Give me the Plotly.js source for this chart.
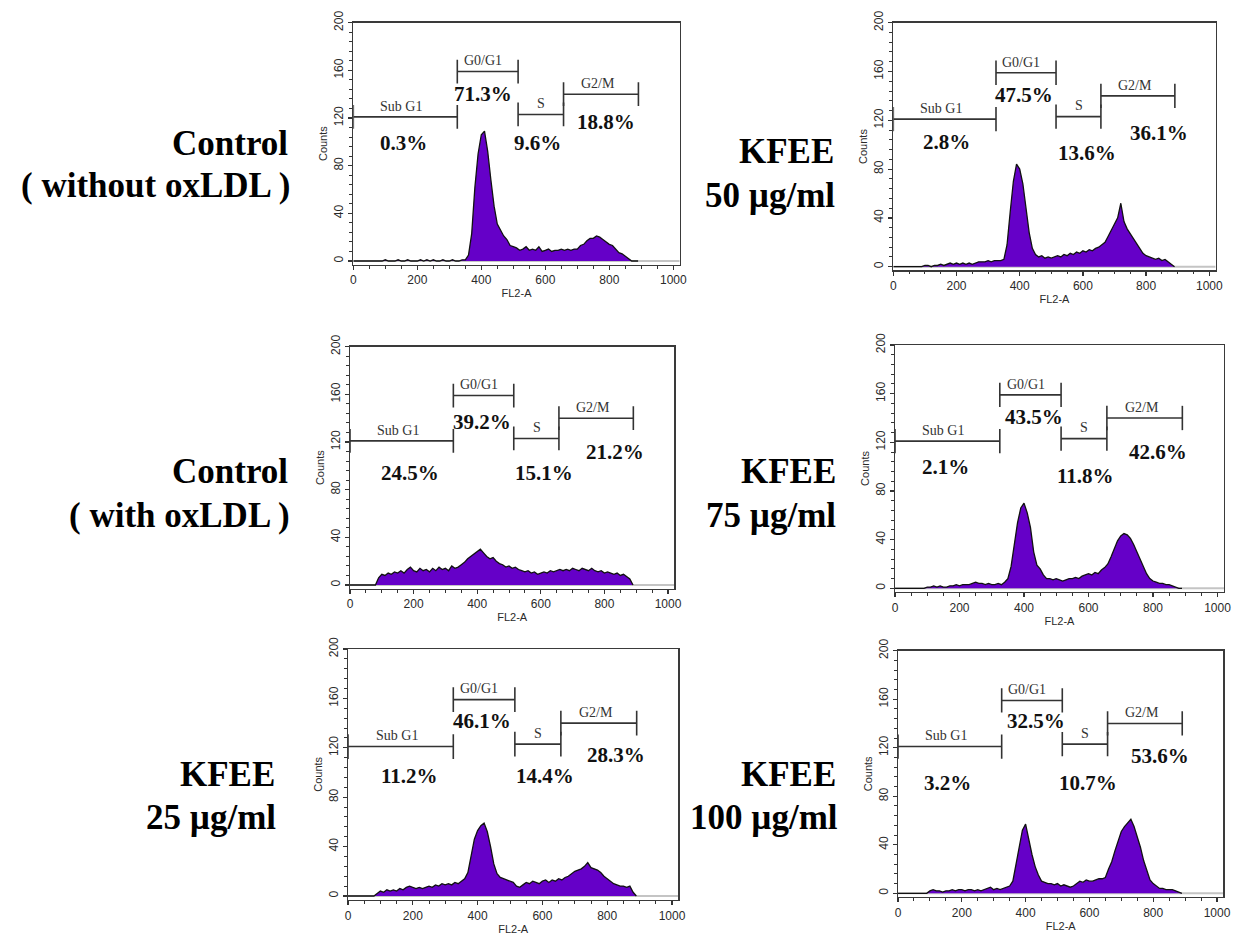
<!DOCTYPE html>
<html><head><meta charset="utf-8">
<script src="https://cdn.plot.ly/plotly-3.0.1.min.js"></script>
<style>html,body{margin:0;padding:0;background:#fff}</style>
</head><body><div id="chart" style="width:1241px;height:936px"></div>
<script>
// ---------- DATA ----------
const channels = [0,10,20,30,40,50,60,70,80,90,
  100,110,120,130,140,150,160,170,180,190,
  200,210,220,230,240,250,260,270,280,290,
  300,310,320,330,340,350,360,370,380,390,
  400,410,420,430,440,450,460,470,480,490,
  500,510,520,530,540,550,560,570,580,590,
  600,610,620,630,640,650,660,670,680,690,
  700,710,720,730,740,750,760,770,780,790,
  800,810,820,830,840,850,860,870,880,890];

const countsControlNoOx = [0,0,0,0,0,0,0,0,0,0,
  1,0,0,0,1,0,0,1,0,0,
  0,1,0,1,0,1,0,0,1,0,
  0,1,0,0,1,1,5,23,62,90,
  106,109,92,68,46,31,26,21,18,13,
  12,11,9,10,12,9,10,9,12,8,
  9,10,8,9,9,10,9,10,9,10,
  10,13,14,17,19,19,21,20,18,16,
  14,13,10,7,6,4,2,0,0,0];

const countsKFEE50 = [0,0,0,0,0,0,0,0,0,0,
  1,1,0,1,1,2,1,2,3,2,
  3,2,3,2,3,2,3,4,4,4,
  5,4,5,5,5,6,18,45,70,84,
  80,68,48,28,15,10,8,9,7,8,
  7,8,9,8,10,9,11,10,12,11,
  13,12,14,13,15,16,18,20,25,30,
  36,40,52,37,31,27,22,18,14,11,
  9,8,7,6,7,5,6,4,2,0];

const countsControlOx = [0,0,0,0,0,0,0,0,0,6,
  9,8,10,9,11,10,12,10,13,15,
  12,11,14,12,13,11,14,12,15,13,
  14,12,16,14,15,17,19,22,24,26,
  28,30,27,24,22,23,20,18,17,15,
  16,14,15,13,12,11,12,10,11,9,
  10,11,10,12,11,12,13,12,13,12,
  14,13,12,14,13,12,14,12,11,12,
  10,11,10,9,10,8,9,7,5,0];

const countsKFEE75 = [0,0,0,0,0,0,0,0,0,0,
  1,1,2,1,2,1,1,2,2,3,
  2,3,3,3,4,5,4,4,3,4,
  3,3,4,3,5,8,18,38,54,66,
  70,62,50,30,19,16,11,8,8,7,
  8,7,6,7,8,8,9,8,10,11,
  12,11,13,12,15,17,20,26,33,39,
  43,45,44,41,36,30,23,17,12,8,
  6,5,4,4,3,3,2,1,0,0];

const countsKFEE25 = [0,0,0,0,0,0,0,0,0,2,
  4,3,5,4,5,4,6,5,7,8,
  7,6,7,6,7,8,7,9,8,10,
  9,10,9,11,10,12,14,19,32,46,
  53,57,59,52,40,26,18,15,14,13,
  12,11,8,7,9,11,10,12,11,10,
  12,13,11,13,12,14,13,15,16,18,
  20,21,22,24,27,23,22,21,19,16,
  14,12,10,9,8,8,7,8,3,0];

const countsKFEE100 = [0,0,0,0,0,0,0,0,0,0,
  2,3,2,2,1,2,2,3,2,3,
  3,2,3,3,2,3,2,3,4,5,
  3,4,3,4,5,6,10,24,38,52,
  57,44,32,22,15,10,9,8,8,7,
  8,6,7,6,5,6,8,10,9,11,
  10,10,11,12,12,13,20,26,35,44,
  51,55,58,61,55,47,38,27,18,11,
  8,6,4,4,3,3,3,2,1,0];

const gateNames = ["Sub G1", "G0/G1", "S", "G2/M"];
const gateStart = [0, 325, 515, 657];
const gateEnd   = [325, 515, 657, 891];

const pctControlNoOx = [0.3, 71.3, 9.6, 18.8];
const pctKFEE50      = [2.8, 47.5, 13.6, 36.1];
const pctControlOx   = [24.5, 39.2, 15.1, 21.2];
const pctKFEE75      = [2.1, 43.5, 11.8, 42.6];
const pctKFEE25      = [11.2, 46.1, 14.4, 28.3];
const pctKFEE100     = [3.2, 32.5, 10.7, 53.6];

const labelsControlNoOx = ["Control", "( without oxLDL )"];
const labelsKFEE50      = ["KFEE", "50 µg/ml"];
const labelsControlOx   = ["Control", "( with oxLDL )"];
const labelsKFEE75      = ["KFEE", "75 µg/ml"];
const labelsKFEE25      = ["KFEE", "25 µg/ml"];
const labelsKFEE100     = ["KFEE", "100 µg/ml"];

const xTicks = [0, 200, 400, 600, 800, 1000];
const yTicks = [0, 40, 80, 120, 160, 200];

// ---------- LAYOUT GEOMETRY (pixels) ----------
const W = 1241, H = 936;
const geo = [
  {x0:353.3, s:0.320, top:22.7,  zero:261.0},
  {x0:893.3, s:0.316, top:22.7,  zero:266.7},
  {x0:350.0, s:0.318, top:346.7, zero:585.0},
  {x0:895.0, s:0.3225,top:345.0, zero:588.3},
  {x0:348.0, s:0.324, top:649.0, zero:896.0},
  {x0:898.0, s:0.319, top:650.7, zero:893.3}
];
const XMAX = 1020, YMIN = -3, YMAX = 200;
const pctPos = [
  [[156,99],[404,140],[575,99],[790,117]],
  [[167,102],[413,141],[614,93],[841,110]],
  [[189,94],[414,137],[611,94],[833,112]],
  [[158,100],[431,141],[592,92],[817,112]],
  [[190,97],[415,142],[607,97],[826,114]],
  [[155,91],[432,142],[596,91],[820,113]]
];
const gateLevel = [121, 159, 123, 140];
const gateLabelX = [150, 405, 587, 765];
const capHalf = 10;
const sidePos = [
  {right:[290,292], base:[154,197]},
  {right:[836,837], base:[163,206]},
  {right:[290,292], base:[482,526]},
  {right:[838,838], base:[482,526]},
  {right:[277,278], base:[785,828]},
  {right:[838,840], base:[785,828]}
];

const panels = [
  {counts: countsControlNoOx, pct: pctControlNoOx, side: labelsControlNoOx},
  {counts: countsKFEE50,      pct: pctKFEE50,      side: labelsKFEE50},
  {counts: countsControlOx,   pct: pctControlOx,   side: labelsControlOx},
  {counts: countsKFEE75,      pct: pctKFEE75,      side: labelsKFEE75},
  {counts: countsKFEE25,      pct: pctKFEE25,      side: labelsKFEE25},
  {counts: countsKFEE100,     pct: pctKFEE100,     side: labelsKFEE100}
];

const traces = [];
const layout = {
  width: W, height: H,
  margin: {l:0, r:0, t:0, b:0},
  paper_bgcolor: '#ffffff', plot_bgcolor: '#ffffff',
  showlegend: false,
  shapes: [], annotations: []
};
const sans = 'Liberation Sans, Arial, sans-serif';
const serif = 'Liberation Serif, Times New Roman, serif';

panels.forEach((p, i) => {
  const n = i + 1;
  const xa = n === 1 ? 'x' : 'x' + n;
  const ya = n === 1 ? 'y' : 'y' + n;
  const g = geo[i];
  const bottom = g.zero + (g.zero - g.top) / 200 * (0 - YMIN);
  const right = g.x0 + XMAX * g.s;
  traces.push({
    type: 'scatter', mode: 'lines', x: channels, y: p.counts,
    xaxis: xa, yaxis: ya, fill: 'tozeroy', fillcolor: '#6500c8',
    line: {color: '#111', width: 1.3}, hoverinfo: 'skip'
  });
  const axCommon = {
    showgrid: false, zeroline: false, showline: true, mirror: true,
    linecolor: '#3a3a3a', linewidth: 1.5,
    ticks: 'outside', ticklen: 4, tickwidth: 1.2, tickcolor: '#333',
    tickfont: {family: sans, size: 12, color: '#2a2a2a'},
    fixedrange: true
  };
  layout['xaxis' + (n === 1 ? '' : n)] = Object.assign({}, axCommon, {
    domain: [g.x0 / W, right / W], range: [0, XMAX], anchor: ya,
    tickmode: 'array', tickvals: xTicks,
    minor: {dtick: 50, ticks: 'outside', ticklen: 2.5, tickwidth: 1, tickcolor: '#333'},
    title: {text: 'FL2-A', font: {family: sans, size: 11, color: '#2a2a2a'}, standoff: 3}
  });
  layout['yaxis' + (n === 1 ? '' : n)] = Object.assign({}, axCommon, {
    domain: [1 - bottom / H, 1 - g.top / H], range: [YMIN, YMAX], anchor: xa,
    tickmode: 'array', tickvals: yTicks, tickangle: -90,
    minor: {dtick: 8, ticks: 'outside', ticklen: 2.5, tickwidth: 1, tickcolor: '#333'},
    title: {text: 'Counts', font: {family: sans, size: 11, color: '#2a2a2a'}, standoff: 2}
  });
  layout.shapes.push({type: 'line', xref: xa, yref: ya, x0: 0, x1: XMAX, y0: 0, y1: 0,
    line: {color: '#c4c4c4', width: 2}, layer: 'below'});
  gateNames.forEach((gn, k) => {
    const lv = gateLevel[k];
    const ln = {color: '#333', width: 1.6};
    layout.shapes.push({type: 'line', xref: xa, yref: ya, x0: gateStart[k], x1: gateEnd[k], y0: lv, y1: lv, line: ln});
    layout.shapes.push({type: 'line', xref: xa, yref: ya, x0: gateStart[k], x1: gateStart[k], y0: lv - capHalf, y1: lv + capHalf, line: ln});
    layout.shapes.push({type: 'line', xref: xa, yref: ya, x0: gateEnd[k], x1: gateEnd[k], y0: lv - capHalf, y1: lv + capHalf, line: ln});
    layout.annotations.push({xref: xa, yref: ya, x: gateLabelX[k], y: lv + 1, yanchor: 'bottom', xanchor: 'center',
      text: gn, showarrow: false, font: {family: serif, size: 14, color: '#333'}});
    layout.annotations.push({xref: xa, yref: ya, x: pctPos[i][k][0], y: pctPos[i][k][1], xanchor: 'center', yanchor: 'middle',
      text: '<b>' + p.pct[k].toFixed(1) + '%</b>', showarrow: false, font: {family: serif, size: 21, color: '#111'}});
  });
  p.side.forEach((t, k) => {
    layout.annotations.push({xref: 'paper', yref: 'paper', x: sidePos[i].right[k] / W, y: 1 - (sidePos[i].base[k] - 11) / H,
      xanchor: 'right', yanchor: 'middle', text: '<b>' + t + '</b>', showarrow: false,
      font: {family: serif, size: 35, color: '#000'}});
  });
});

Plotly.newPlot('chart', traces, layout, {staticPlot: true, displayModeBar: false});
</script>
</body></html>
